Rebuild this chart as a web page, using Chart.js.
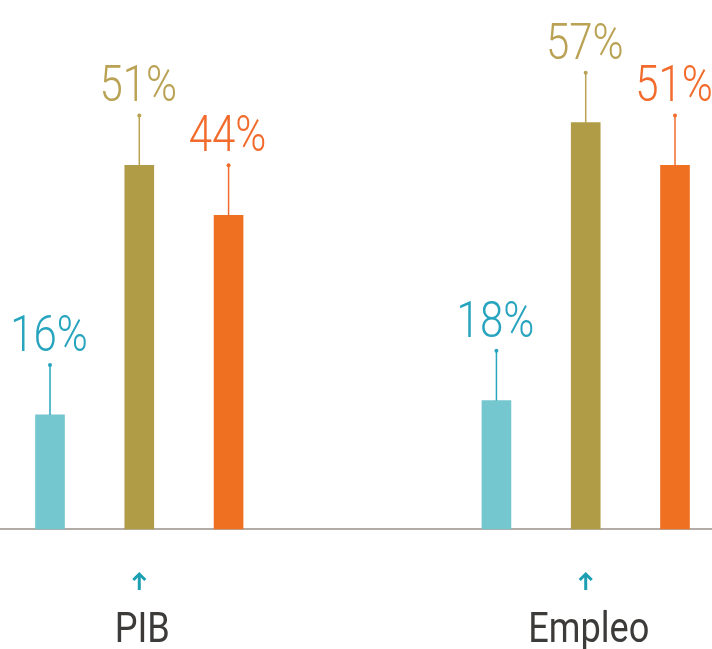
<!DOCTYPE html>
<html>
<head>
<meta charset="utf-8">
<script src="https://cdn.jsdelivr.net/npm/chart.js@4"></script>
<style>
  html, body { margin: 0; padding: 0; background: #ffffff; }
  #wrap { width: 712px; height: 649px; position: relative; }
</style>
</head>
<body>
<div id="wrap"><canvas id="c"></canvas></div>
<script>
// ---- Data ----
const categories = ['PIB', 'Empleo'];
const seriesA = [16, 18];   // teal
const seriesB = [51, 57];   // olive
const seriesC = [44, 51];   // orange
const seriesNames = ['Serie 1', 'Serie 2', 'Serie 3'];

// ---- Styles ----
const barColors = ['#74c6cf', '#b09c46', '#f07022'];
const textColors = ['#27a4be', '#baa254', '#f26b2c'];
const FONT = 'Roboto, "Liberation Sans", sans-serif';

// Build slot layout: each group uses 3 slots, with 2 empty slots between groups
const slotsPerGroup = 5;
const nSlots = categories.length * slotsPerGroup - 2;
const slotLabels = Array.from({length: nSlots}, () => '');
categories.forEach((c, g) => { slotLabels[g * slotsPerGroup + 1] = c; });

function buildSlots(values, s) {
  const arr = Array(nSlots).fill(null);
  values.forEach((v, g) => { arr[g * slotsPerGroup + s] = v; });
  return arr;
}
const allSeries = [seriesA, seriesB, seriesC];
const datasets = allSeries.map((vals, s) => ({
  label: seriesNames[s],
  data: buildSlots(vals, s),
  backgroundColor: barColors[s],
  borderWidth: 0,
  barThickness: 29,
  grouped: false,
  clip: false
}));

function condensedText(ctx, text, x, y, sx) {
  ctx.save();
  ctx.translate(x, y);
  ctx.scale(sx, 1);
  ctx.fillText(text, 0, 0);
  ctx.restore();
}

const baselinePlugin = {
  id: 'baseline',
  beforeDatasetsDraw(chart) {
    const ctx = chart.ctx;
    const y = chart.scales.y.getPixelForValue(0);
    ctx.save();
    ctx.strokeStyle = '#b3aca6';
    ctx.lineWidth = 2;
    ctx.beginPath();
    ctx.moveTo(0, y);
    ctx.lineTo(chart.width, y);
    ctx.stroke();
    ctx.restore();
  }
};

const labelPlugin = {
  id: 'valueLabels',
  afterDatasetsDraw(chart) {
    const ctx = chart.ctx;
    ctx.save();
    chart.data.datasets.forEach((ds, di) => {
      const meta = chart.getDatasetMeta(di);
      meta.data.forEach((el, i) => {
        const v = ds.data[i];
        if (v === null || v === undefined) return;
        const x = el.x, y = el.y;
        const lineTop = y - 50;
        ctx.strokeStyle = textColors[di];
        ctx.lineWidth = 1.5;
        ctx.beginPath();
        ctx.moveTo(x, y);
        ctx.lineTo(x, lineTop);
        ctx.stroke();
        ctx.fillStyle = textColors[di];
        ctx.beginPath();
        ctx.arc(x, lineTop, 2, 0, Math.PI * 2);
        ctx.fill();
        ctx.font = '300 50px ' + FONT;
        ctx.textAlign = 'center';
        ctx.textBaseline = 'alphabetic';
        condensedText(ctx, v + '%', x - 1, lineTop - 14, 0.84);
      });
    });
    ctx.restore();
  }
};

const categoryPlugin = {
  id: 'categoryLabels',
  afterDraw(chart) {
    const ctx = chart.ctx;
    const xs = chart.scales.x;
    ctx.save();
    categories.forEach((c, g) => {
      const x = xs.getPixelForValue(g * slotsPerGroup + 1);
      // arrow
      ctx.strokeStyle = '#1c9fb2';
      ctx.lineWidth = 3;
      ctx.lineCap = 'butt';
      ctx.beginPath();
      ctx.moveTo(x, 590);
      ctx.lineTo(x, 575);
      ctx.stroke();
      ctx.beginPath();
      ctx.moveTo(x - 6, 580);
      ctx.lineTo(x, 574);
      ctx.lineTo(x + 6, 580);
      ctx.stroke();
      // label
      ctx.fillStyle = '#3d3b3a';
      ctx.font = '400 42px ' + FONT;
      ctx.textAlign = 'center';
      ctx.textBaseline = 'alphabetic';
      condensedText(ctx, c, x + 3, 642, 0.86);
    });
    ctx.restore();
  }
};

new Chart(document.getElementById('c'), {
  type: 'bar',
  data: { labels: slotLabels, datasets: datasets },
  options: {
    responsive: true,
    maintainAspectRatio: false,
    animation: false,
    layout: { padding: { left: 50, right: 37, top: 30, bottom: 120 } },
    plugins: { legend: { display: false }, tooltip: { enabled: false } },
    scales: {
      x: { display: false, offset: false },
      y: { display: false, min: 0, max: 70 }
    }
  },
  plugins: [baselinePlugin, labelPlugin, categoryPlugin]
});
</script>
</body>
</html>
